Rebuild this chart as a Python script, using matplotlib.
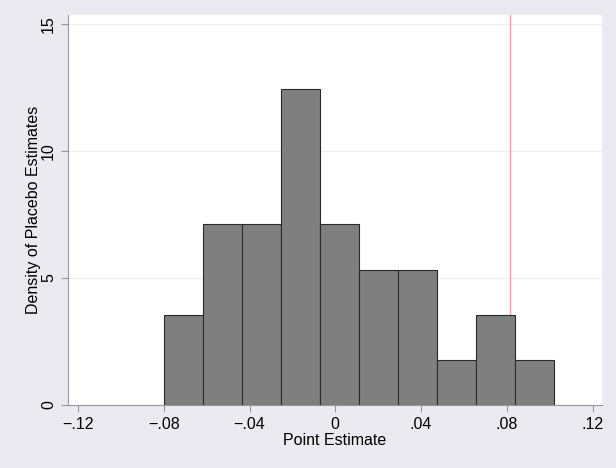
import numpy as np
import matplotlib
matplotlib.use('Agg')
import matplotlib.pyplot as plt

# histogram of placebo estimates (31 draws, 10 bins)
bin_start = -0.0798
bin_width = 0.01816
counts = [2, 4, 4, 7, 4, 3, 3, 1, 2, 1]
actual_estimate = 0.0817

x_ticks = [-0.12, -0.08, -0.04, 0, 0.04, 0.08, 0.12]
x_labels = ['\u2212.12', '\u2212.08', '\u2212.04', '0', '.04', '.08', '.12']
y_ticks = [0, 5, 10, 15]

plt.rcParams['font.family'] = ['Liberation Sans', 'DejaVu Sans']

counts = np.array(counts)
n = counts.sum()
density = counts / (n * bin_width)
lefts = bin_start + bin_width * np.arange(len(counts))

fig = plt.figure(figsize=(6.16, 4.68), dpi=100)
fig.patch.set_facecolor('#eaeaf0')
ax = fig.add_axes([0.1104, 0.1346, 0.8668, 0.8334])
ax.set_facecolor('white')

ax.bar(lefts, density, width=bin_width, align='edge', color='#7f7f7f',
       edgecolor='#2a2a2a', linewidth=0.8, zorder=3)
ax.axvline(actual_estimate, color='#f4a0a0', linewidth=1.0, zorder=2)

ax.set_xlim(-0.1247, 0.1244)
ax.set_ylim(0, 15.35)
ax.set_xticks(x_ticks)
ax.set_xticklabels(x_labels, fontsize=11.5)
ax.set_yticks(y_ticks)
ax.set_yticklabels([str(t) for t in y_ticks], fontsize=11.5, rotation=90, va='center')

ax.grid(axis='y', color='#eeeeee', linewidth=0.8, zorder=0)
ax.set_axisbelow(True)

for side in ['top', 'right']:
    ax.spines[side].set_visible(False)
for side in ['left', 'bottom']:
    ax.spines[side].set_color('#999999')
    ax.spines[side].set_linewidth(0.8)
ax.tick_params(axis='both', direction='out', length=5, color='#999999', width=0.8,
               labelcolor='black')

ax.set_xlabel('Point Estimate', fontsize=11.5, labelpad=1)
ax.set_ylabel('Density of Placebo Estimates', fontsize=11.5, labelpad=0)

fig.savefig('out.png', dpi=100, facecolor=fig.get_facecolor())
